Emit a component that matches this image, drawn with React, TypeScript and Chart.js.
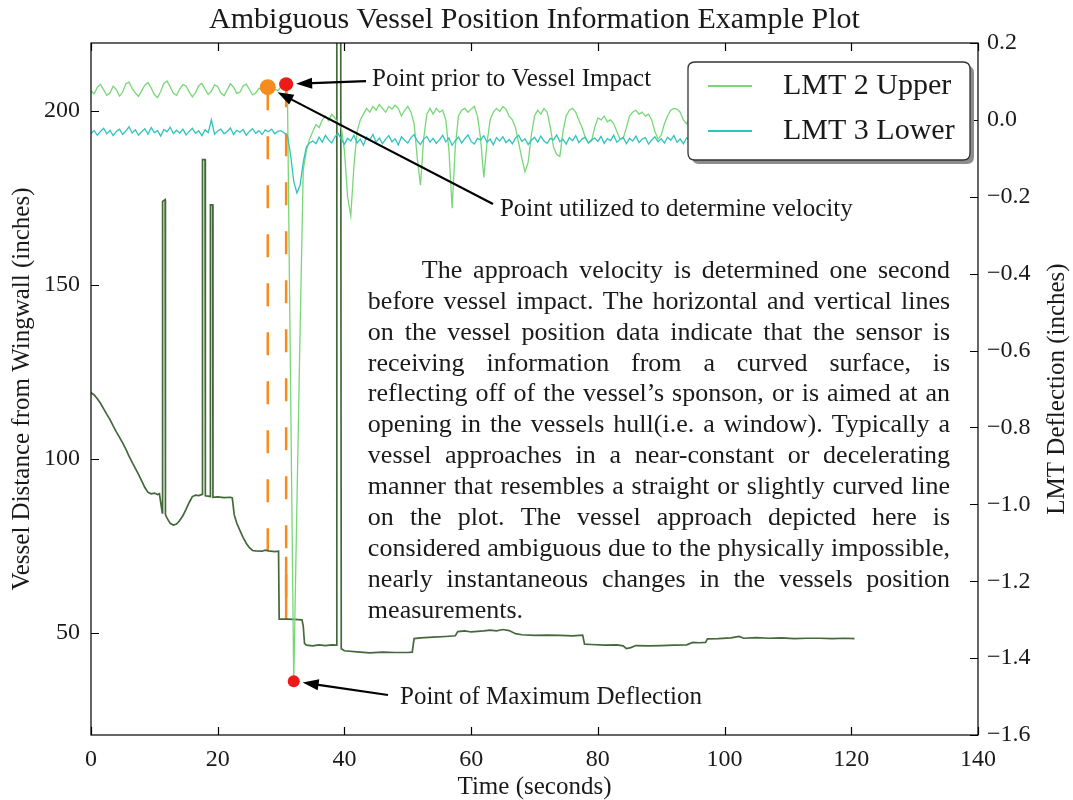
import React, { useEffect, useRef } from "react";
import { Chart, registerables } from "chart.js";

Chart.register(...registerables);

const SERIF = '"Liberation Serif", "Times New Roman", serif';

// LMT gauge deflections (inches), one reading every 0.5 s from t = 0 s to t = 120 s
const lmtSampleStep = 0.5;

const lmt2Upper = [
  0.075, 0.068, 0.085, 0.092, 0.078, 0.064, 0.070, 0.088, 0.079, 0.062,
  0.072, 0.094, 0.098, 0.082, 0.070, 0.061, 0.076, 0.090, 0.097, 0.083,
  0.066, 0.058, 0.074, 0.095, 0.101, 0.086, 0.069, 0.064, 0.080, 0.092,
  0.088, 0.073, 0.060, 0.071, 0.089, 0.095, 0.080, 0.066, 0.075, 0.091,
  0.087, 0.070, 0.063, 0.078, 0.094, 0.085, 0.069, 0.072, 0.088, 0.093,
  0.079, 0.065, 0.070, 0.082, 0.078, 0.072, 0.085, 0.088, 0.080, 0.076,
  0.086, 0.093, 0.080, -0.690, -1.460, -1.000, -0.550, -0.130, -0.080, -0.050,
  -0.030, -0.012, -0.020, 0.000, 0.010, -0.002, 0.015, 0.005, -0.010, -0.020,
  -0.080, -0.200, -0.250, -0.120, -0.030, 0.000, 0.015, 0.030, 0.020, 0.035,
  0.025, 0.040, 0.030, 0.020, 0.035, 0.028, 0.038, 0.030, 0.010, 0.025,
  0.035, 0.020, -0.010, -0.100, -0.170, -0.050, 0.015, 0.030, 0.015, 0.030,
  0.020, 0.025, 0.000, -0.080, -0.230, -0.070, 0.010, 0.025, 0.030, 0.020,
  0.028, 0.035, 0.010, -0.050, -0.150, -0.060, 0.000, 0.020, 0.030, 0.022,
  0.035, 0.028, 0.010, 0.000, -0.020, -0.060, -0.100, -0.135, -0.110, -0.040,
  0.010, 0.025, 0.015, 0.030, 0.020, -0.020, -0.070, -0.090, -0.095, -0.030,
  0.010, 0.025, 0.030, 0.020, 0.000, -0.020, -0.045, -0.060, -0.055, -0.020,
  0.005, 0.000, 0.010, -0.005, 0.000, -0.010, -0.030, -0.050, -0.048, -0.020,
  0.010, 0.020, 0.025, 0.015, 0.020, 0.010, 0.015, 0.000, -0.030, -0.050,
  -0.040, -0.010, 0.010, 0.025, 0.030, 0.028, 0.020, 0.000, -0.010, 0.005,
  0.020, 0.030, 0.015, -0.010, -0.040, -0.020, 0.010, 0.025, 0.030, 0.015,
  0.000, -0.030, -0.050, -0.020, 0.015, 0.028, 0.020, 0.030, 0.010, -0.020,
  -0.060, -0.030, 0.010, 0.025, 0.020, 0.030, 0.015, 0.000, -0.040, -0.010,
  0.020, 0.030, 0.025, 0.010, -0.020, -0.050, -0.020, 0.015, 0.028, 0.020,
  0.030, 0.015, -0.010, -0.040, -0.015, 0.020, 0.030, 0.022, 0.010, 0.020,
  0.025,
];

const lmt3Lower = [
  -0.035, -0.028, -0.040, -0.030, -0.022, -0.036, -0.027, -0.041, -0.030, -0.024,
  -0.038, -0.029, -0.018, -0.034, -0.026, -0.040, -0.031, -0.023, -0.037, -0.020,
  -0.033, -0.028, -0.042, -0.025, -0.031, -0.019, -0.036, -0.027, -0.034, -0.024,
  -0.039, -0.030, -0.022, -0.035, -0.028, -0.041, -0.026, -0.033, 0.000, -0.037,
  -0.029, -0.024, -0.036, -0.030, -0.021, -0.038, -0.027, -0.032, -0.025, -0.040,
  -0.030, -0.023, -0.035, -0.028, -0.038, -0.026, -0.031, -0.024, -0.036, -0.030,
  -0.028, -0.034, -0.040, -0.090, -0.160, -0.190, -0.170, -0.110, -0.070, -0.060,
  -0.055, -0.062, -0.045, -0.058, -0.040, -0.052, -0.060, -0.044, -0.035, -0.050,
  -0.063, -0.048, -0.055, -0.040, -0.060, -0.050, -0.066, -0.045, -0.052, -0.038,
  -0.058, -0.047, -0.062, -0.050, -0.041, -0.057, -0.049, -0.065, -0.044, -0.053,
  -0.060, -0.046, -0.038, -0.055, -0.064, -0.050, -0.043, -0.058, -0.048, -0.061,
  -0.052, -0.040, -0.057, -0.047, -0.066, -0.054, -0.045, -0.060, -0.049, -0.039,
  -0.056, -0.063, -0.048, -0.052, -0.041, -0.058, -0.050, -0.065, -0.046, -0.055,
  -0.044, -0.059, -0.051, -0.062, -0.047, -0.040, -0.056, -0.049, -0.064, -0.053,
  -0.045, -0.058, -0.042, -0.055, -0.061, -0.048, -0.052, -0.039, -0.057, -0.050,
  -0.063, -0.046, -0.054, -0.041, -0.059, -0.050, -0.045, -0.060, -0.052, -0.047,
  -0.056, -0.043, -0.061, -0.049, -0.054, -0.040, -0.058, -0.051, -0.045, -0.062,
  -0.048, -0.055, -0.042, -0.059, -0.050, -0.046, -0.063, -0.052, -0.044, -0.057,
  -0.049, -0.060, -0.045, -0.053, -0.041, -0.058, -0.050, -0.062, -0.047, -0.054,
  -0.043, -0.057, -0.051, -0.046, -0.060, -0.049, -0.055, -0.042, -0.058, -0.050,
  -0.061, -0.047, -0.053, -0.044, -0.059, -0.052, -0.046, -0.063, -0.050, -0.055,
  -0.042, -0.058, -0.049, -0.054, -0.045, -0.060, -0.051, -0.047, -0.062, -0.053,
  -0.046, -0.056, -0.043, -0.059, -0.050, -0.055, -0.048, -0.061, -0.044, -0.057,
  -0.051, -0.045, -0.060, -0.049, -0.054, -0.042, -0.058, -0.050, -0.047, -0.055,
  -0.052,
];

// Vessel position record: time (s) and distance from the wingwall (in)
const vesselTime = [
  0, 0.5, 1, 1.5, 2, 2.5, 3, 3.5, 4, 4.5,
  5, 5.5, 6, 6.5, 7, 7.5, 8, 8.5, 9, 9.5,
  10, 10.5, 10.8, 11.0, 11.25, 11.3, 11.7, 11.75, 12.0, 12.5,
  13, 13.5, 14, 14.5, 15, 15.5, 16, 16.5, 17, 17.55,
  17.6, 18.0, 18.05, 18.5, 18.8, 18.85, 19.2, 19.25, 20, 21,
  22, 22.3, 22.6, 23, 23.5, 24, 24.5, 25, 25.5, 26,
  27, 27.5, 28, 29, 29.6, 29.7, 31, 32, 33.3, 33.5,
  33.7, 34, 35, 36, 37, 38, 38.7, 38.8, 39.4, 39.5,
  40, 42, 44, 46, 48, 50, 50.7, 51, 52, 54,
  56, 57.5, 57.9, 59, 60, 62, 63, 64, 65, 66,
  67, 68, 70, 72, 74, 76, 77.6, 77.9, 79, 81,
  83, 84, 84.5, 85.2, 86, 88, 90, 92, 94, 95,
  96, 97, 97.3, 99, 101, 102.3, 103, 105, 107, 109,
  111, 113, 115, 117, 119, 120.5,
];

const vesselDistance = [
  119.0, 118.4, 117.3, 116.0, 114.4, 112.8, 111.3, 109.5, 107.8, 106.2,
  104.6, 102.8, 100.8, 99.0, 97.3, 95.6, 93.7, 91.8, 90.4, 90.0,
  90.2, 89.8, 90.0, 87.5, 84.5, 174.0, 174.5, 84.0, 83.0, 81.5,
  81.0, 81.3, 82.3, 83.7, 85.5, 87.5, 89.2, 89.6, 89.5, 89.8,
  186.0, 186.0, 89.4, 89.3, 89.2, 173.0, 173.0, 89.0, 89.1, 88.9,
  89.0, 88.8, 84.0, 81.6, 79.5, 77.5, 75.8, 74.5, 73.7, 73.6,
  73.5, 73.8, 73.6, 73.4, 73.5, 54.0, 54.0, 53.9, 53.8, 52.0,
  47.0, 46.5, 46.3, 46.6, 46.4, 46.6, 46.5, 260.0, 260.0, 45.5,
  44.9, 44.6, 44.3, 44.5, 44.4, 44.4, 44.5, 48.4, 48.6, 48.8,
  49.0, 49.2, 50.4, 50.6, 50.3, 50.6, 50.8, 50.6, 51.0, 50.7,
  49.8, 49.5, 49.3, 49.4, 49.3, 49.2, 49.4, 46.8, 46.7, 46.5,
  46.6, 46.3, 45.5, 45.8, 46.4, 46.3, 46.4, 46.5, 46.6, 47.3,
  47.2, 47.3, 48.3, 48.4, 48.6, 49.0, 48.5, 48.7, 48.5, 48.6,
  48.4, 48.5, 48.5, 48.4, 48.5, 48.4,
];

// Highlighted readings on the LMT 2 record: velocity point, pre-impact point, peak deflection
const markerTime = [27.9, 30.8, 32.0];
const markerDeflection = [0.085, 0.093, -1.46];

const seriesLabels = ["LMT 2 Upper", "LMT 3 Lower"];

// Tick values
const timeTicks = [0, 20, 40, 60, 80, 100, 120, 140];
const distanceTicks = [50, 100, 150, 200];
const deflectionTicks = [-1.6, -1.4, -1.2, -1.0, -0.8, -0.6, -0.4, -0.2, 0.0, 0.2];

const paragraphLines = [
  "The approach velocity is determined one second",
  "before vessel impact.  The horizontal and vertical lines",
  "on the vessel position data indicate that the sensor is",
  "receiving information from a curved surface, is",
  "reflecting off of the vessel\u2019s sponson, or is aimed at an",
  "opening in the vessels hull(i.e. a window).  Typically a",
  "vessel approaches in a near-constant or decelerating",
  "manner that resembles a straight or slightly curved line",
  "on the plot. The vessel approach depicted here is",
  "considered ambiguous due to the physically impossible,",
  "nearly instantaneous changes in the vessels position",
  "measurements.",
];

// Callouts: text anchor and arrow tail in (time, deflection) coordinates
const callouts = [
  { text: "Point prior to Vessel Impact", marker: 1, textAt: [44.35, 0.106], tail: [43.4, 0.101] },
  { text: "Point utilized to determine velocity", marker: 0, textAt: [64.55, -0.234], tail: [63.45, -0.219] },
  { text: "Point of Maximum Deflection", marker: 2, textAt: [48.77, -1.501], tail: [46.87, -1.496] },
];

const COLORS = {
  lmt2: "#78d878",
  lmt3: "#30c4bc",
  vessel: "#43693a",
  orange: "#f68b1f",
  red: "#ee1a1a",
  text: "#1a1a1a",
};

const markerColors = [COLORS.orange, COLORS.red, COLORS.red];
const markerRadii = [8, 7, 6];

const lmtPoints = (values: number[]) =>
  values.map((v, i) => ({ x: i * lmtSampleStep, y: v }));

const fixedTicks = (values: number[]) => (s: any) => {
  s.ticks = values.map((v) => ({ value: v }));
};

function vesselAt(t: number): number {
  for (let i = 1; i < vesselTime.length; i++) {
    if (vesselTime[i] >= t) {
      const t0 = vesselTime[i - 1];
      const t1 = vesselTime[i];
      const f = t1 === t0 ? 0 : (t - t0) / (t1 - t0);
      return vesselDistance[i - 1] + f * (vesselDistance[i] - vesselDistance[i - 1]);
    }
  }
  return vesselDistance[vesselDistance.length - 1];
}

function roundRect(ctx: CanvasRenderingContext2D, x: number, y: number, w: number, h: number, r: number) {
  ctx.beginPath();
  ctx.moveTo(x + r, y);
  ctx.lineTo(x + w - r, y);
  ctx.quadraticCurveTo(x + w, y, x + w, y + r);
  ctx.lineTo(x + w, y + h - r);
  ctx.quadraticCurveTo(x + w, y + h, x + w - r, y + h);
  ctx.lineTo(x + r, y + h);
  ctx.quadraticCurveTo(x, y + h, x, y + h - r);
  ctx.lineTo(x, y + r);
  ctx.quadraticCurveTo(x, y, x + r, y);
  ctx.closePath();
}

function drawArrow(ctx: CanvasRenderingContext2D, x0: number, y0: number, x1: number, y1: number) {
  const ang = Math.atan2(y1 - y0, x1 - x0);
  const len = Math.hypot(x1 - x0, y1 - y0);
  const headLen = 16;
  const headHalf = 5.5;
  const shaftHalf = 1.1;
  ctx.save();
  ctx.translate(x0, y0);
  ctx.rotate(ang);
  ctx.beginPath();
  ctx.moveTo(0, -shaftHalf);
  ctx.lineTo(len - headLen, -shaftHalf);
  ctx.lineTo(len - headLen, -headHalf);
  ctx.lineTo(len, 0);
  ctx.lineTo(len - headLen, headHalf);
  ctx.lineTo(len - headLen, shaftHalf);
  ctx.lineTo(0, shaftHalf);
  ctx.closePath();
  ctx.fillStyle = "#000";
  ctx.fill();
  ctx.restore();
}

const decorations = {
  id: "decorations",
  beforeDatasetsDraw(chart: any) {
    const { ctx, chartArea: a, scales } = chart;
    const x = scales.x;
    const yL = scales.yL;
    const yR = scales.yR;
    ctx.save();
    ctx.beginPath();
    ctx.rect(a.left, a.top, a.right - a.left, a.bottom - a.top);
    ctx.clip();
    ctx.strokeStyle = COLORS.orange;
    ctx.lineWidth = 2.5;
    ctx.setLineDash([23, 26]);
    for (const m of [0, 1]) {
      const px = x.getPixelForValue(markerTime[m]);
      ctx.beginPath();
      ctx.moveTo(px, yR.getPixelForValue(markerDeflection[m]));
      ctx.lineTo(px, yL.getPixelForValue(vesselAt(markerTime[m])));
      ctx.stroke();
    }
    // distance travelled between the two readings
    ctx.setLineDash([]);
    const p1 = x.getPixelForValue(markerTime[1]);
    ctx.beginPath();
    ctx.moveTo(p1, yL.getPixelForValue(vesselAt(markerTime[0])) + 6);
    ctx.lineTo(p1, yL.getPixelForValue(vesselAt(markerTime[1])));
    ctx.stroke();
    ctx.restore();
  },
  afterDatasetsDraw(chart: any) {
    const { ctx, chartArea: a, scales } = chart;
    const x = scales.x;
    const yL = scales.yL;
    const yR = scales.yR;
    ctx.save();

    // frame
    ctx.strokeStyle = "#000";
    ctx.lineWidth = 1.2;
    ctx.strokeRect(a.left, a.top, a.right - a.left, a.bottom - a.top);

    // inward tick marks
    const tl = 8;
    ctx.beginPath();
    for (const t of x.ticks) {
      const px = Math.round(x.getPixelForValue(t.value)) + 0.5;
      ctx.moveTo(px, a.bottom);
      ctx.lineTo(px, a.bottom - tl);
      ctx.moveTo(px, a.top);
      ctx.lineTo(px, a.top + tl);
    }
    for (const t of yL.ticks) {
      const py = Math.round(yL.getPixelForValue(t.value)) + 0.5;
      ctx.moveTo(a.left, py);
      ctx.lineTo(a.left + tl, py);
    }
    for (const t of yR.ticks) {
      const py = Math.round(yR.getPixelForValue(t.value)) + 0.5;
      ctx.moveTo(a.right, py);
      ctx.lineTo(a.right - tl, py);
    }
    ctx.stroke();

    // legend box
    const lw = 282;
    const lh = 98;
    const lx = a.right - 8 - lw;
    const ly = a.top + 19;
    ctx.fillStyle = "#8c8c8c";
    roundRect(ctx, lx + 4, ly + 4, lw, lh, 7);
    ctx.fill();
    ctx.fillStyle = "#fff";
    roundRect(ctx, lx, ly, lw, lh, 7);
    ctx.fill();
    ctx.strokeStyle = "#333";
    ctx.lineWidth = 1.3;
    ctx.stroke();
    const legendColors = [COLORS.lmt2, COLORS.lmt3];
    ctx.font = `30px ${SERIF}`;
    ctx.textBaseline = "middle";
    ctx.textAlign = "left";
    seriesLabels.forEach((label, i) => {
      const cy = ly + 24 + i * 45;
      ctx.strokeStyle = legendColors[i];
      ctx.lineWidth = 1.8;
      ctx.beginPath();
      ctx.moveTo(lx + 20, cy);
      ctx.lineTo(lx + 64, cy);
      ctx.stroke();
      ctx.fillStyle = COLORS.text;
      ctx.fillText(label, lx + 95, cy);
    });

    // callouts
    ctx.font = `25px ${SERIF}`;
    for (const c of callouts) {
      const mx = x.getPixelForValue(markerTime[c.marker]);
      const my = yR.getPixelForValue(markerDeflection[c.marker]);
      const tx = x.getPixelForValue(c.tail[0]);
      const ty = yR.getPixelForValue(c.tail[1]);
      const d = Math.hypot(tx - mx, ty - my);
      const off = markerRadii[c.marker] + 3;
      const tipX = mx + ((tx - mx) / d) * off;
      const tipY = my + ((ty - my) / d) * off;
      drawArrow(ctx, tx, ty, tipX, tipY);
      ctx.fillStyle = COLORS.text;
      ctx.fillText(c.text, x.getPixelForValue(c.textAt[0]), yR.getPixelForValue(c.textAt[1]));
    }

    // explanatory paragraph, justified
    ctx.font = `26px ${SERIF}`;
    const left = x.getPixelForValue(43.7);
    const right = x.getPixelForValue(135.6);
    const top = yR.getPixelForValue(-0.393);
    const indent = 54;
    paragraphLines.forEach((line, i) => {
      const y = top + i * 30.9;
      const x0 = i === 0 ? left + indent : left;
      const words = line.split(" ").filter((w) => w.length > 0);
      if (i === paragraphLines.length - 1 || words.length < 2) {
        ctx.fillText(line, x0, y);
        return;
      }
      const wordsW = words.reduce((s, w) => s + ctx.measureText(w).width, 0);
      const gap = (right - x0 - wordsW) / (words.length - 1);
      let cx = x0;
      for (const w of words) {
        ctx.fillText(w, cx, y);
        cx += ctx.measureText(w).width + gap;
      }
    });

    // titles
    const midX = (a.left + a.right) / 2;
    const midY = (a.top + a.bottom) / 2;
    ctx.textAlign = "center";
    ctx.font = `30px ${SERIF}`;
    ctx.fillText("Ambiguous Vessel Position Information Example Plot", midX, 20);
    ctx.font = `25px ${SERIF}`;
    ctx.fillText("Time (seconds)", midX, 787);
    ctx.save();
    ctx.translate(22, midY);
    ctx.rotate(-Math.PI / 2);
    ctx.fillText("Vessel Distance from Wingwall (inches)", 0, 0);
    ctx.restore();
    ctx.save();
    ctx.translate(1057, midY);
    ctx.rotate(-Math.PI / 2);
    ctx.fillText("LMT Deflection (inches)", 0, 0);
    ctx.restore();

    ctx.restore();
  },
};

export default function App() {
  const canvasRef = useRef<HTMLCanvasElement>(null);

  useEffect(() => {
    const canvas = canvasRef.current;
    if (!canvas) return;
    Chart.defaults.font.family = SERIF;
    Chart.defaults.color = COLORS.text;

    const tickFont = { family: SERIF, size: 24 };

    const chart = new Chart(canvas, {
      type: "line",
      data: {
        datasets: [
          {
            type: "scatter",
            label: "markers",
            data: markerTime.map((t, i) => ({ x: t, y: markerDeflection[i] })),
            yAxisID: "yR",
            backgroundColor: markerColors,
            borderColor: markerColors,
            pointRadius: markerRadii,
            pointBorderWidth: 0,
            showLine: false,
            order: 0,
          },
          {
            label: seriesLabels[1],
            data: lmtPoints(lmt3Lower),
            yAxisID: "yR",
            borderColor: COLORS.lmt3,
            borderWidth: 1.3,
            pointRadius: 0,
            tension: 0,
            order: 1,
          },
          {
            label: seriesLabels[0],
            data: lmtPoints(lmt2Upper),
            yAxisID: "yR",
            borderColor: COLORS.lmt2,
            borderWidth: 1.3,
            pointRadius: 0,
            tension: 0,
            order: 2,
          },
          {
            label: "Vessel position",
            data: vesselTime.map((t, i) => ({ x: t, y: vesselDistance[i] })),
            yAxisID: "yL",
            borderColor: COLORS.vessel,
            borderWidth: 1.7,
            pointRadius: 0,
            tension: 0,
            order: 3,
          },
        ],
      },
      options: {
        responsive: false,
        animation: false,
        devicePixelRatio: 1,
        events: [],
        layout: { padding: { top: 43, left: 0, right: 0, bottom: 0 } },
        plugins: {
          legend: { display: false },
          tooltip: { enabled: false },
          title: { display: false },
        },
        scales: {
          x: {
            type: "linear",
            min: 0,
            max: 140,
            grid: { display: false, drawTicks: false },
            border: { display: false },
            afterBuildTicks: fixedTicks(timeTicks),
            ticks: { font: tickFont, padding: 10, color: COLORS.text, maxRotation: 0 },
            afterFit: (s: any) => {
              s.height = 65;
            },
          },
          yL: {
            type: "linear",
            position: "left",
            min: 20.7,
            max: 219.5,
            grid: { display: false, drawTicks: false },
            border: { display: false },
            afterBuildTicks: fixedTicks(distanceTicks),
            ticks: { font: tickFont, padding: 11, color: COLORS.text },
            afterFit: (s: any) => {
              s.width = 91;
            },
          },
          yR: {
            type: "linear",
            position: "right",
            min: -1.6,
            max: 0.2,
            grid: { display: false, drawTicks: false },
            border: { display: false },
            afterBuildTicks: fixedTicks(deflectionTicks),
            ticks: {
              font: tickFont,
              padding: 9,
              color: COLORS.text,
              callback: (v: any) => {
                const n = Math.abs(Number(v)) < 1e-9 ? 0 : Number(v);
                return n.toFixed(1).replace("-", "\u2212");
              },
            },
            afterFit: (s: any) => {
              s.width = 95;
            },
          },
        },
      },
      plugins: [decorations],
    } as any);

    return () => chart.destroy();
  }, []);

  return (
    <canvas
      ref={canvasRef}
      width={1073}
      height={800}
      style={{ position: "absolute", left: 0, top: 0, width: 1073, height: 800, display: "block" }}
    />
  );
}
